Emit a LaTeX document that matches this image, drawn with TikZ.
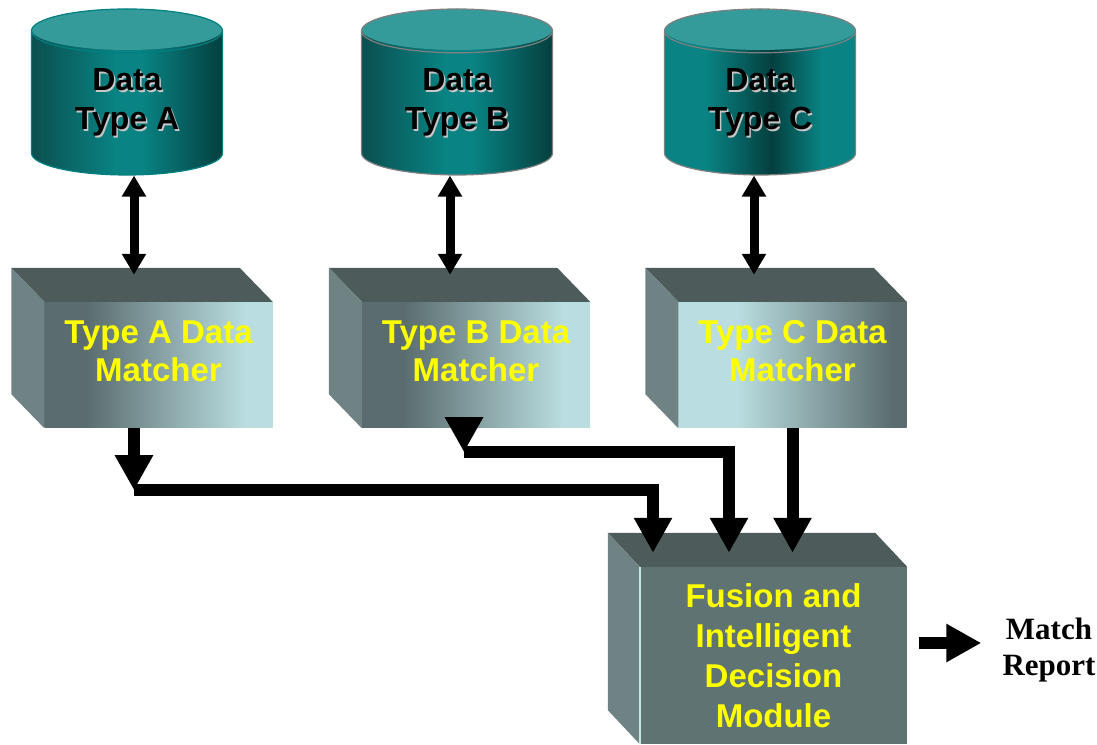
\documentclass[tikz,border=0pt]{standalone}
\usepackage{fontspec}
\setmainfont{Liberation Sans}
\newfontfamily\reportfont{Liberation Serif}
\usetikzlibrary{arrows.meta,shapes.geometric,calc}

\definecolor{cyltop}{HTML}{349A9A}
\definecolor{cyldark}{HTML}{0B4F4F}
\definecolor{cylmid}{HTML}{098383}
\definecolor{cyldeep}{HTML}{053F3F}
\definecolor{mdark}{HTML}{5A6C6E}
\definecolor{mlight}{HTML}{B9DDE0}
\definecolor{topface}{HTML}{4D5B5B}
\definecolor{sideface}{HTML}{6F8384}
\definecolor{fusface}{HTML}{5F7373}
\definecolor{fusedge}{HTML}{C2E8E8}
\definecolor{labelyellow}{HTML}{FFFF00}

\pgfdeclarehorizontalshading{cylout}{100bp}{color(0bp)=(cyldark); color(25bp)=(cyldark); color(47bp)=(cylmid); color(54bp)=(cylmid); color(75bp)=(cyldeep); color(100bp)=(cyldeep)}
\pgfdeclarehorizontalshading{cylin}{100bp}{color(0bp)=(cylmid); color(36bp)=(cylmid); color(53bp)=(cyldeep); color(66bp)=(cylmid); color(100bp)=(cylmid)}
\pgfdeclarehorizontalshading{darklight}{100bp}{color(0bp)=(mdark); color(34bp)=(mdark); color(69bp)=(mlight); color(100bp)=(mlight)}
\pgfdeclarehorizontalshading{lightdark}{100bp}{color(0bp)=(mlight); color(38bp)=(mlight); color(72bp)=(mdark); color(100bp)=(mdark)}

% text with a light drop shadow
\newcommand{\shtext}[1]{\makebox[0pt][l]{\kern1.6pt\raisebox{-1.6pt}{\textcolor{gray!45}{#1}}}#1}

\begin{document}
\begin{tikzpicture}[x=1pt,y=1pt]
\tikzstyle{datacyl} = [cylinder, shape border rotate=90, aspect=0.42, anchor=shape center,
minimum width=191pt, minimum height=166pt, inner sep=0pt, shade, shading=cylout,
line width=1.2pt, draw=gray, align=center, font=\fontsize{32}{39}\selectfont\bfseries,
path picture={\fill[cyltop] ($(path picture bounding box.north)+(0,-20.5pt)$)
ellipse [x radius=95.5pt, y radius=20.5pt];}]
\tikzstyle{matcher} = [rectangle, shade, shading=darklight, minimum width=228pt,
minimum height=126pt, inner sep=0pt, text=labelyellow, align=center,
font=\fontsize{33}{38}\selectfont\bfseries, text depth=28pt]
\tikzstyle{fusion} = [rectangle, fill=fusface, minimum width=267pt,
minimum height=177pt, inner sep=0pt, text=labelyellow, align=center,
font=\fontsize{33}{40}\selectfont\bfseries]
\tikzstyle{report} = [inner sep=0pt, align=center,
font=\reportfont\fontsize{31}{36}\selectfont\bfseries]
\tikzstyle{fat} = [draw, line width=12pt, -{Triangle[length=35pt,width=36pt]}]
\tikzstyle{dbl} = [draw, line width=9pt,
{Triangle[length=21pt,width=23pt]}-{Triangle[length=21pt,width=23pt]}]

\useasboundingbox (0,0) rectangle (1097,744);

% data stores
\node [datacyl, draw=teal] (dbA) at (127,652) {\shtext{Data}\\\shtext{Type A}};
\node [datacyl] (dbB) at (457,652) {\shtext{Data}\\\shtext{Type B}};
\node [datacyl, shading=cylin] (dbC) at (760,652) {\shtext{Data}\\\shtext{Type C}};

% matchers
\node [matcher] (mA) at (158.5,379) {Type A Data\\Matcher};
\node [matcher] (mB) at (476,379) {Type B Data\\Matcher};
\node [matcher, shading=lightdark] (mC) at (792.5,379) {Type C Data\\Matcher};

% fusion
\node [fusion] (fus) at (773.5,88.5) {Fusion and\\Intelligent\\Decision\\Module};
\node [report] (rep) at (1049,94) {Match\\Report};

% box sides
\fill[topface] (mA.north west) -- ++(-33,34) -- ([shift={(-33,34)}]mA.north east) -- (mA.north east) -- cycle;
\fill[sideface] (mA.north west) -- ++(-33,34) -- ([shift={(-33,34)}]mA.south west) -- (mA.south west) -- cycle;
\fill[topface] (mB.north west) -- ++(-33,34) -- ([shift={(-33,34)}]mB.north east) -- (mB.north east) -- cycle;
\fill[sideface] (mB.north west) -- ++(-33,34) -- ([shift={(-33,34)}]mB.south west) -- (mB.south west) -- cycle;
\fill[topface] (mC.north west) -- ++(-33,34) -- ([shift={(-33,34)}]mC.north east) -- (mC.north east) -- cycle;
\fill[sideface] (mC.north west) -- ++(-33,34) -- ([shift={(-33,34)}]mC.south west) -- (mC.south west) -- cycle;
\fill[topface] (fus.north west) -- ++(-32,34) -- ([shift={(-32,34)}]fus.north east) -- (fus.north east) -- cycle;
\fill[sideface] (fus.north west) -- ++(-32,34) -- ([shift={(-32,34)}]fus.south west) -- (fus.south west) -- cycle;
\draw[fusedge, line width=2pt] (fus.north west) -- (fus.south west);

% links
\coordinate (jA) at ([xshift=-24.5pt,yshift=-62pt]mA.south);
\coordinate (jB) at ([xshift=-12pt,yshift=-24pt]mB.south);
\path[dbl] ([xshift=7pt]dbA.south) -- ([xshift=7pt,yshift=27pt]dbA.south |- mA.north);
\path[dbl] ([xshift=-7pt]dbB.south) -- ([xshift=-7pt,yshift=27pt]dbB.south |- mB.north);
\path[dbl] ([xshift=-6pt]dbC.south) -- ([xshift=-6pt,yshift=27pt]dbC.south |- mC.north);
\path[fat] ([xshift=-24.5pt]mA.south) -- (jA);
\path[fat] (jA) -| ([xshift=-120.5pt,yshift=14pt]fus.north);
\path[fat] ([xshift=-12pt]mB.south) -- (jB);
\path[fat] (jB) -| ([xshift=-44.5pt,yshift=14pt]fus.north);
\path[fat] (mC.south) -- ([yshift=14pt]mC.south |- fus.north);
\path[fat] ([xshift=12pt,yshift=7pt]fus.east |- rep.west) -- ([xshift=-21pt,yshift=7pt]rep.west);
\end{tikzpicture}
\end{document}
